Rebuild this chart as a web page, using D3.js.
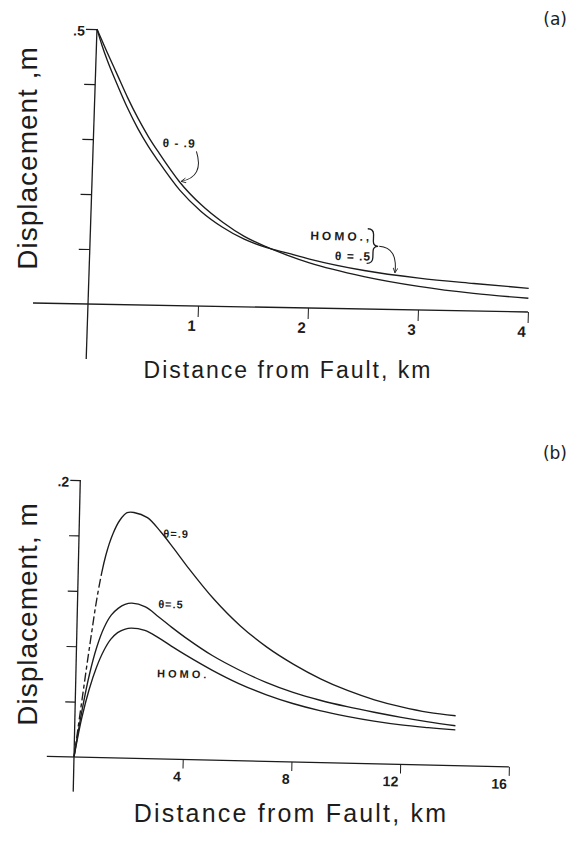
<!DOCTYPE html>
<html><head><meta charset="utf-8">
<script src="https://cdn.jsdelivr.net/npm/d3@7"></script>
<style>
html,body{margin:0;padding:0;background:#fff;}
svg{display:block;}
text{font-family:"Liberation Sans", Arial, Helvetica, sans-serif; fill:#1c1c1c;}
</style></head><body>
<svg id="chart" width="569" height="851"></svg>
<script>
// ---------- Panel (a) data ----------
const distA   = [0, 0.05, 0.1, 0.2, 0.3, 0.4, 0.5, 0.6, 0.8, 1.0, 1.2, 1.4, 1.6, 1.8, 2.0, 2.5, 3.0, 3.5, 4.0];
const theta9A = [0.5, 0.479, 0.458, 0.417, 0.376, 0.339, 0.306, 0.277, 0.224, 0.184, 0.153, 0.128, 0.110, 0.095, 0.082, 0.059, 0.043, 0.032, 0.025];
const homoA   = [0.5, 0.471, 0.445, 0.400, 0.358, 0.321, 0.289, 0.261, 0.210, 0.172, 0.144, 0.123, 0.109, 0.099, 0.089, 0.070, 0.058, 0.050, 0.043];
const xTicksA = [1, 2, 3, 4];
const yTicksA = [0.1, 0.2, 0.3, 0.4, 0.5];
const yTickLabelA = ".5";

// ---------- Panel (b) data ----------
const distB    = [0, 0.25, 0.5, 0.75, 1.0, 1.25, 1.5, 1.75, 2.0, 2.5, 3.0, 3.5, 4.0, 5, 6, 7, 8, 9, 10, 11, 12, 13, 14];
const theta9B  = [0, 0.042, 0.083, 0.120, 0.146, 0.162, 0.172, 0.1772, 0.1775, 0.174, 0.164, 0.152, 0.1395, 0.1165, 0.0975, 0.0825, 0.0705, 0.0605, 0.0525, 0.0462, 0.0415, 0.038, 0.036];
const theta5B  = [0, 0.033, 0.060, 0.080, 0.094, 0.103, 0.108, 0.111, 0.112, 0.1095, 0.1025, 0.095, 0.088, 0.0755, 0.0655, 0.057, 0.0502, 0.045, 0.0408, 0.0372, 0.034, 0.0312, 0.0288];
const homoB    = [0, 0.028, 0.049, 0.065, 0.077, 0.0855, 0.0905, 0.093, 0.094, 0.0925, 0.0875, 0.0815, 0.0757, 0.065, 0.0557, 0.0482, 0.0422, 0.0375, 0.0338, 0.0308, 0.0285, 0.027, 0.0258];
const xTicksB  = [4, 8, 12, 16];
const yTicksB  = [0.04, 0.08, 0.12, 0.16, 0.2];
const yTickLabelB = ".2";

const xTitle = "Distance from Fault, km";
const yTitleA = "Displacement ,m";
const yTitleB = "Displacement, m";

const INK = "#1c1c1c";
const svg = d3.select("#chart");

// arrow marker
const defs = svg.append("defs");
defs.append("marker").attr("id","arr").attr("viewBox","0 0 10 10").attr("refX",9).attr("refY",5)
  .attr("markerWidth",6).attr("markerHeight",6).attr("orient","auto-start-reverse")
  .append("path").attr("d","M1,1 L9,5 L1,9").attr("fill","none").attr("stroke",INK).attr("stroke-width",1.4);

function panel(cfg){
  const g = svg.append("g")
    .attr("transform", `translate(${cfg.ox},${cfg.oy}) rotate(${cfg.rot}) skewX(${cfg.skew})`);
  const x = d3.scaleLinear().domain(cfg.xDomain).range([0, cfg.w]);
  const y = d3.scaleLinear().domain(cfg.yDomain).range([0, -cfg.h]);

  // axis lines
  g.append("line").attr("x1", x(cfg.xStart)).attr("x2", x(cfg.xDomain[1]))
    .attr("y1", y(0)).attr("y2", y(0)).attr("stroke", INK).attr("stroke-width", 1.3);
  g.append("line").attr("x1", x(0)).attr("x2", x(0))
    .attr("y1", y(cfg.yStart)).attr("y2", y(cfg.yDomain[1])).attr("stroke", INK).attr("stroke-width", 1.3);

  // x axis ticks
  const xa = d3.axisBottom(x).tickValues(cfg.xTicks).tickSize(cfg.xTickLen).tickFormat(d3.format("d"));
  const gx = g.append("g").attr("transform", `translate(0,${y(0)})`).call(xa);
  gx.select(".domain").remove();
  gx.selectAll(".tick line").attr("stroke", INK).attr("stroke-width", 1);
  gx.selectAll(".tick text").attr("text-anchor","end").attr("x",-2).attr("y", cfg.xLabY).attr("dy",0)
    .style("font-size", cfg.xTickFont+"px").style("font-weight","bold").attr("fill", INK);

  // y axis ticks
  const ya = d3.axisLeft(y).tickValues(cfg.yTicks).tickSize(cfg.yTickLen)
    .tickFormat(d => d === cfg.yDomain[1] ? cfg.yTickLabel : "");
  const gy = g.append("g").call(ya);
  gy.select(".domain").remove();
  gy.selectAll(".tick line").attr("stroke", INK).attr("stroke-width", 1.2);
  gy.selectAll(".tick text").attr("x", -cfg.yTickLen - 1).attr("dy","0.45em")
    .style("font-size","14px").style("font-weight","bold").attr("fill", INK);

  // curves
  const line = d3.line().x(d => x(d[0])).y(d => y(d[1])).curve(cfg.curve);
  const paths = cfg.series.map(s =>
    g.append("path").datum(cfg.dist.map((d,i) => [d, s[i]]))
      .attr("d", line).attr("fill","none").attr("stroke", INK).attr("stroke-width", 1.35));

  // axis titles (page coords)
  svg.append("text").attr("x", cfg.xTitlePos[0]).attr("y", cfg.xTitlePos[1])
    .attr("text-anchor","middle").style("font-size", cfg.xTitleFont+"px").style("letter-spacing", cfg.xTitleSpacing+"px")
    .text(xTitle);
  svg.append("text").attr("transform", `translate(${cfg.yTitlePos[0]},${cfg.yTitlePos[1]}) rotate(-90)`)
    .attr("text-anchor","middle").style("font-size", cfg.yTitleFont+"px").style("letter-spacing", cfg.yTitleSpacing+"px")
    .text(cfg.yTitle);
  // panel label
  svg.append("text").attr("x", 567).attr("y", cfg.panelLabelY).attr("text-anchor","end")
    .style("font-size","17px").style("font-family","DejaVu Sans").attr("fill","#2a2a2a").text(cfg.panelLabel);

  return {g, x, y, paths};
}

// dash the first part of a path (up to distance dEnd), solid afterwards
function dashStart(path, xScale, dEnd, pattern){
  const node = path.node();
  const total = node.getTotalLength();
  const xEnd = xScale(dEnd);
  let lo = 0, hi = total;
  for (let k = 0; k < 30; k++){ const mid = (lo+hi)/2; if (node.getPointAtLength(mid).x < xEnd) lo = mid; else hi = mid; }
  const arr = []; let acc = 0, i = 0;
  while (acc < lo){ const v = pattern[i % pattern.length]; arr.push(v); acc += v; i++; }
  if (arr.length % 2 === 1) arr.push(0);
  arr.push(total + 10, 0);
  path.attr("stroke-dasharray", arr.join(","));
}

// ---------- Panel (a) ----------
const A = panel({
  ox: 88, oy: 304, rot: 1.04, skew: -0.83,
  xDomain: [0, 4], yDomain: [0, 0.5], w: 440, h: 275,
  xStart: -0.5, yStart: -0.1,
  xTicks: xTicksA, yTicks: yTicksA, yTickLabel: yTickLabelA,
  xTickLen: 11, xLabY: 25, xTickFont: 15, yTickLen: 11,
  dist: distA, series: [theta9A, homoA], curve: d3.curveMonotoneX,
  xTitlePos: [288, 378], xTitleFont: 23, xTitleSpacing: 2,
  yTitle: yTitleA, yTitlePos: [37, 158], yTitleFont: 28, yTitleSpacing: 1,
  panelLabel: "(a)", panelLabelY: 25
});

// annotations (a)
(function(){
  const {g, x, y} = A;
  const lab = g.append("g").style("font-size","12px").style("font-weight","bold").style("letter-spacing","1px");
  lab.append("text").attr("x", x(0.63)).attr("y", y(0.288)).text("θ - .9");
  const tipI = distA.indexOf(0.8);
  g.append("path")
    .attr("d", `M${x(0.94)},${y(0.281)} Q${x(1.02)},${y(0.235)} ${x(0.81)},${y(theta9A[tipI]+0.002)}`)
    .attr("fill","none").attr("stroke",INK).attr("stroke-width",1).attr("marker-end","url(#arr)");

  lab.append("text").attr("x", x(2.0)).attr("y", y(0.124)).style("letter-spacing","3px").text("HOMO.,");
  lab.append("text").attr("x", x(2.23)).attr("y", y(0.088)).text("θ = .5");

  // brace
  const bx = x(2.52), bt = y(0.146), bb = y(0.083), bm = (bt+bb)/2;
  g.append("path")
    .attr("d", `M${bx},${bt} Q${bx+6},${bt} ${bx+6},${bt+6} L${bx+6},${bm-5} Q${bx+6},${bm} ${bx+11},${bm} Q${bx+6},${bm} ${bx+6},${bm+5} L${bx+6},${bb-6} Q${bx+6},${bb} ${bx},${bb}`)
    .attr("fill","none").attr("stroke",INK).attr("stroke-width",1.3);
  // arrow from brace to curve
  const tipD = 2.78;
  const tipV = d3.scaleLinear().domain(distA).range(homoA)(tipD);
  g.append("path")
    .attr("d", `M${bx+12},${bm} Q${x(2.8)},${bm+1} ${x(tipD)},${y(tipV)-2}`)
    .attr("fill","none").attr("stroke",INK).attr("stroke-width",1).attr("marker-end","url(#arr)");
})();

// ---------- Panel (b) ----------
const B = panel({
  ox: 74, oy: 757, rot: 1.3, skew: 0,
  xDomain: [0, 16], yDomain: [0, 0.2], w: 435, h: 277,
  xStart: -1, yStart: -0.025,
  xTicks: xTicksB, yTicks: yTicksB, yTickLabel: yTickLabelB,
  xTickLen: 9, xLabY: 22, xTickFont: 14, yTickLen: 10,
  dist: distB, series: [theta9B, theta5B, homoB], curve: d3.curveCatmullRom.alpha(0.5),
  xTitlePos: [291, 822], xTitleFont: 25, xTitleSpacing: 2.2,
  yTitle: yTitleB, yTitlePos: [37, 614], yTitleFont: 28, yTitleSpacing: 1,
  panelLabel: "(b)", panelLabelY: 459
});
// the θ=.9 rising branch is drawn broken in the original
dashStart(B.paths[0], B.x, 0.85, [9, 3, 4, 3]);

(function(){
  const {g, x, y} = B;
  const lab = g.append("g").style("font-size","11px").style("font-weight","bold").style("letter-spacing","1px");
  lab.append("text").attr("x", x(3.1)).attr("y", y(0.160)).text("θ=.9");
  lab.append("text").attr("x", x(2.97)).attr("y", y(0.109)).text("θ=.5");
  lab.append("text").attr("x", x(2.99)).attr("y", y(0.059)).style("letter-spacing","3px").text("HOMO.");
})();
</script>
</body></html>
